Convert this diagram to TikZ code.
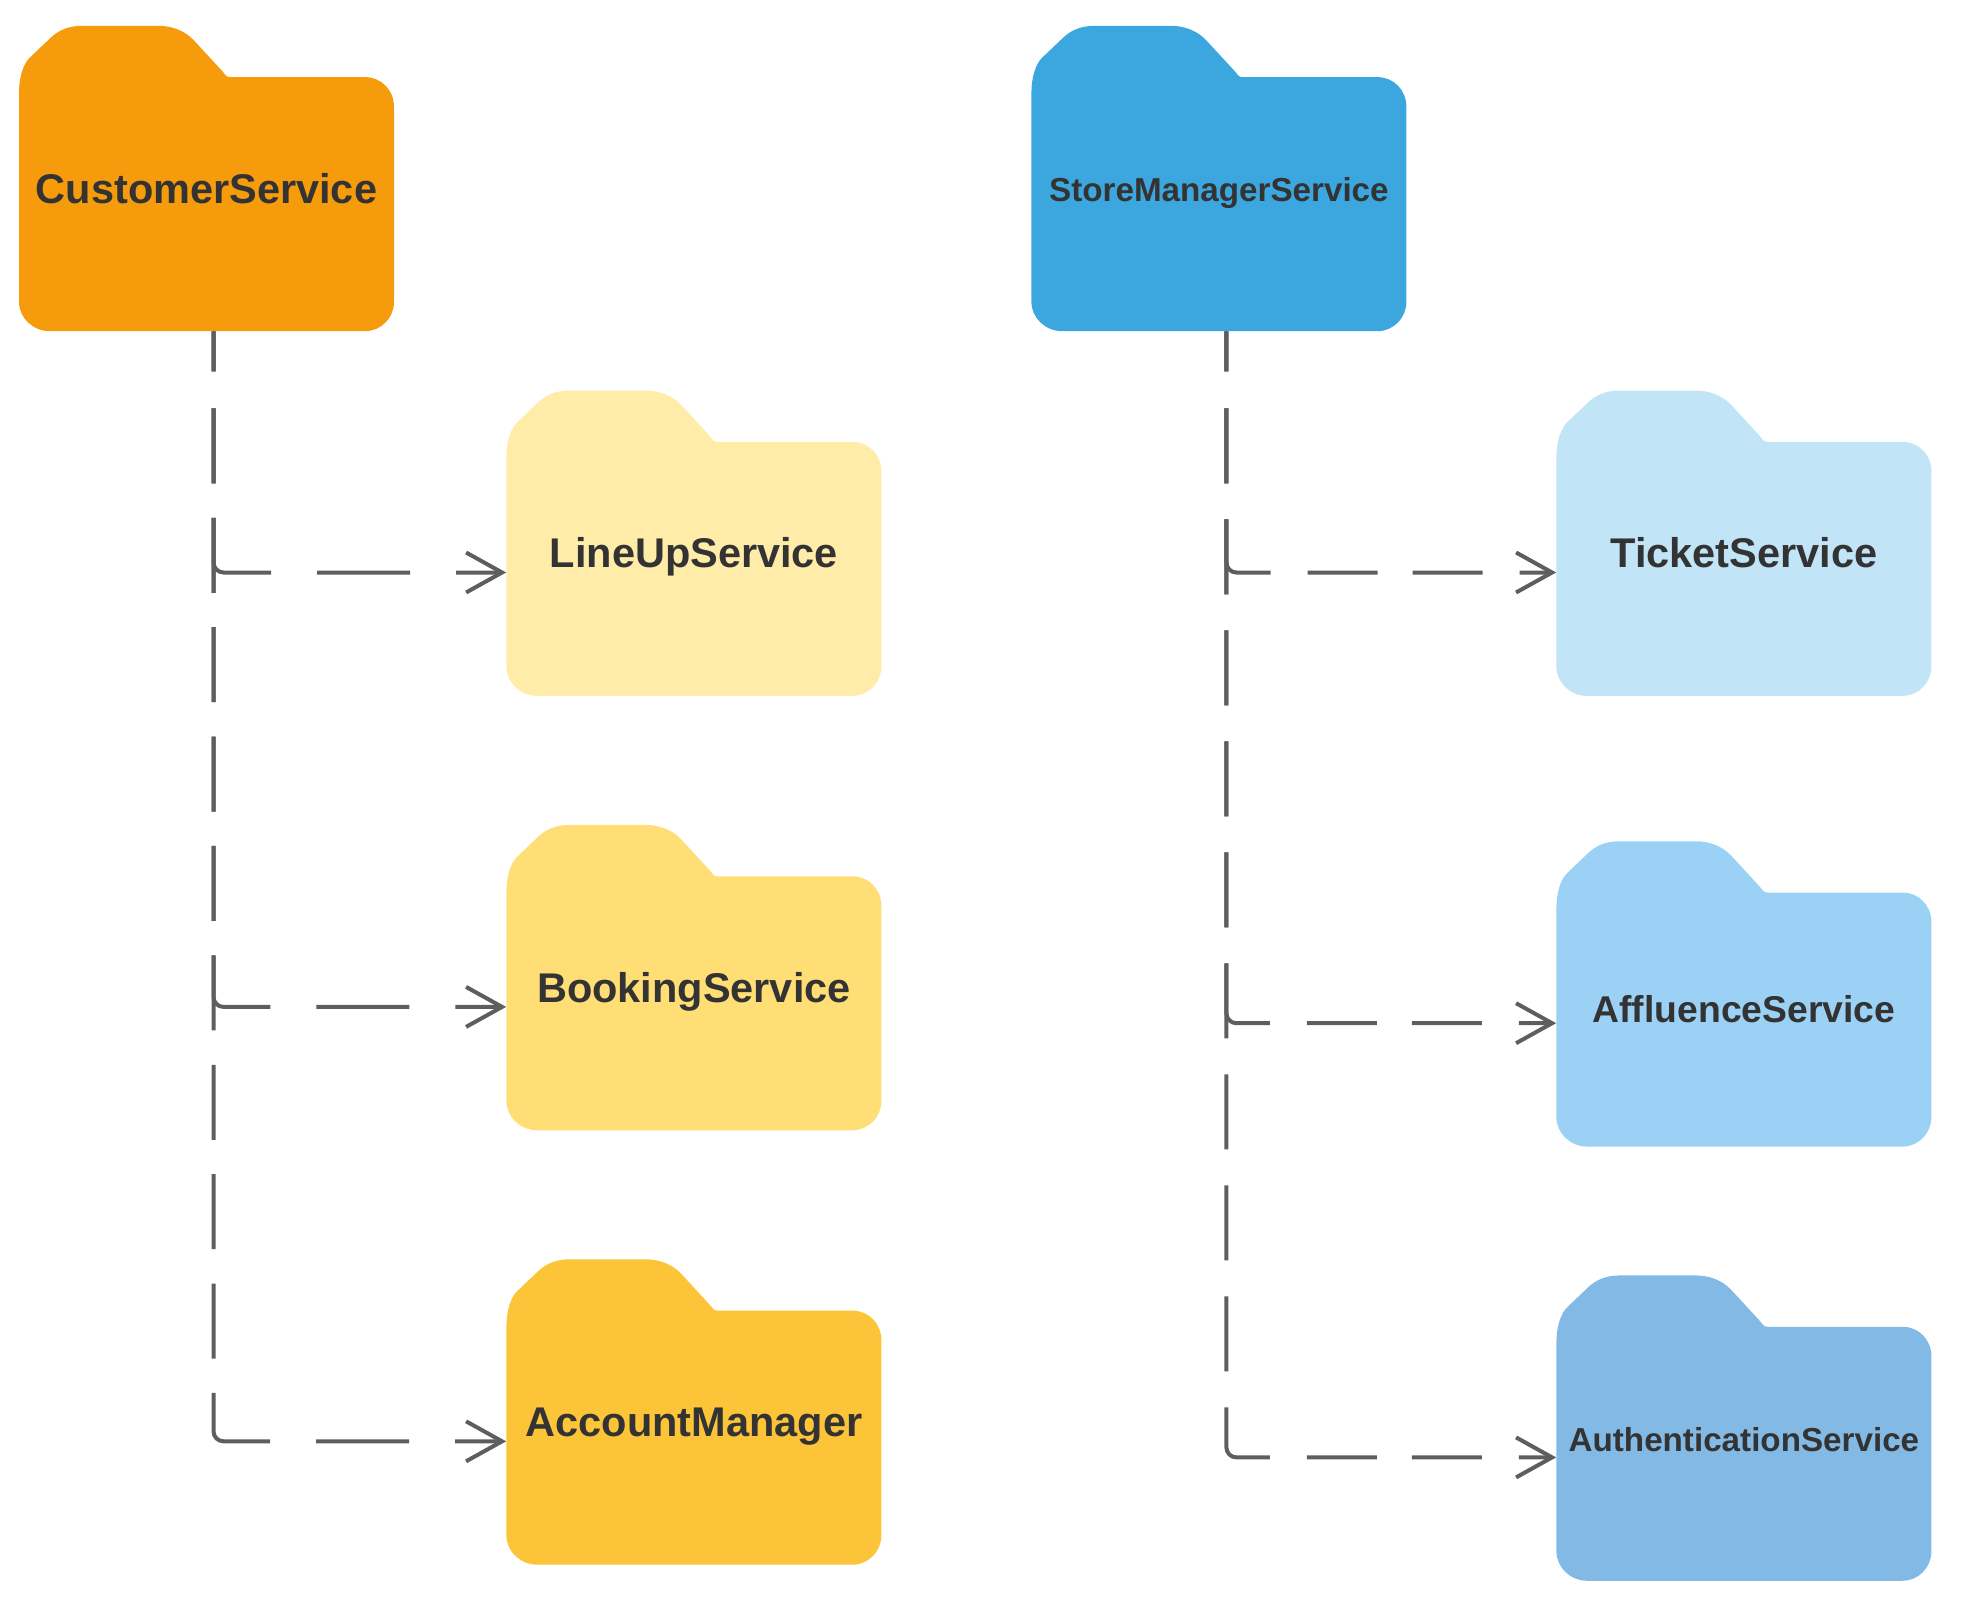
\documentclass[tikz,border=0pt]{standalone}
\usepackage{fontspec}
\setmainfont{Liberation Sans}
\usetikzlibrary{arrows.meta, positioning}
\definecolor{custorange}{HTML}{F69B0C}
\definecolor{lineyellow}{HTML}{FFECA9}
\definecolor{bookyellow}{HTML}{FFDE75}
\definecolor{acctyellow}{HTML}{FCC438}
\definecolor{storeblue}{HTML}{3CA6DF}
\definecolor{ticketblue}{HTML}{C1E4F7}
\definecolor{afflblue}{HTML}{9AD1F5}
\definecolor{authblue}{HTML}{83BAE5}
\definecolor{labeltext}{HTML}{333333}
\definecolor{linkgray}{HTML}{5E5E5E}

\begin{document}
\begin{tikzpicture}[
        x=1pt, y=-1pt,
        folder/.style={rectangle, inner sep=0pt, minimum width=375pt, minimum height=305.3pt,
            text=labeltext, text height=49.5pt, text depth=0pt,
            font=\fontsize{41.5}{48}\selectfont\bfseries,
            path picture={
                \fill [#1] (path picture bounding box.north west) ++(0,67)
                    .. controls +(0,-15) and +(-7,6.5) .. ++(11,-35.4) -- ++(21,-20)
                    .. controls +(8,-7.5) and +(-13,0) .. ++(31,-11.6) -- ++(76.7,0)
                    .. controls +(13.3,0) and +(-8.7,-9.3) .. ++(35,14.3) -- ++(28.3,30.7)
                    .. controls +(3.5,3.8) and +(-4.5,0) .. ++(8.3,6.3) -- ++(135,0)
                    .. controls +(15.7,0) and +(0,-17) .. ++(28.7,29.7) -- ++(0,195)
                    .. controls +(0,16) and +(15.7,0) .. ++(-28.7,29.3) -- ++(-315.7,0)
                    .. controls +(-16.6,0) and +(0,16) .. ++(-30.6,-29.3) -- cycle;
            }},
        midtext/.style={text height=57.5pt, font=\fontsize{37.3}{44}\selectfont\bfseries},
        smalltext/.style={text height=46.5pt, font=\fontsize{33.2}{40}\selectfont\bfseries},
        link/.style={draw=linkgray, line width=4pt, rounded corners=10pt,
            -{Straight Barb[length=36pt, width=40pt, line width=4pt]}}
    ]
        \useasboundingbox (0,0) rectangle (1986,1613);

        \node [folder=custorange] (customer) at (206.5,178.5) {CustomerService};
        \node [folder=lineyellow, below right=59pt and 112pt of customer] (lineup) {LineUpService};
        \node [folder=bookyellow, below=128.7pt of lineup] (booking) {BookingService};
        \node [folder=acctyellow, below=128.7pt of booking] (account) {AccountManager};

        \node [folder=storeblue, smalltext, right=637pt of customer] (store) {StoreManagerService};
        \node [folder=ticketblue, below right=59pt and 149.6pt of store] (ticket) {TicketService};
        \node [folder=afflblue, midtext, below=145pt of ticket] (affluence) {AffluenceService};
        \node [folder=authblue, smalltext, below=128.5pt of affluence] (auth) {AuthenticationService};

        \draw [link, dash pattern=on 40pt off 37pt on 75pt off 34.4pt on 108pt off 46pt on 93pt off 46pt on 60pt]
            ([xshift=7pt]customer.south) |- ([yshift=-29.3pt]lineup.west);
        \draw [link, dash pattern=on 40pt off 37pt on 75pt off 34.4pt on 75pt off 34.4pt on 75pt off 34.4pt on 75pt off 34.4pt on 75pt off 34.4pt on 104pt off 46pt on 93pt off 46pt on 60pt]
            ([xshift=7pt]customer.south) |- ([yshift=-29.3pt]booking.west);
        \draw [link, dash pattern=on 40pt off 37pt on 75pt off 34.4pt on 75pt off 34.4pt on 75pt off 34.4pt on 75pt off 34.4pt on 75pt off 34.4pt on 75pt off 34.4pt on 75pt off 34.4pt on 75pt off 34.4pt on 75pt off 34.4pt on 100.6pt off 46pt on 93pt off 46pt on 60pt]
            ([xshift=7pt]customer.south) |- ([yshift=-29.3pt]account.west);

        \draw [link, dash pattern=on 40pt off 37pt on 75pt off 36pt on 93pt off 37pt on 70pt off 35pt on 70pt off 37pt on 40pt]
            ([xshift=7.5pt]store.south) |- ([yshift=-29.3pt]ticket.west);
        \draw [link, dash pattern=on 40pt off 37pt on 75pt off 36pt on 75pt off 36pt on 75pt off 36pt on 75pt off 36pt on 75pt off 36pt on 99pt off 37pt on 70pt off 35pt on 70pt off 37pt on 40pt]
            ([xshift=7.5pt]store.south) |- ([yshift=-29.3pt]affluence.west);
        \draw [link, dash pattern=on 40pt off 37pt on 75pt off 36pt on 75pt off 36pt on 75pt off 36pt on 75pt off 36pt on 75pt off 36pt on 75pt off 36pt on 75pt off 36pt on 75pt off 36pt on 75pt off 36pt on 89pt off 37pt on 70pt off 35pt on 70pt off 37pt on 40pt]
            ([xshift=7.5pt]store.south) |- ([yshift=-29.3pt]auth.west);
\end{tikzpicture}
\end{document}
